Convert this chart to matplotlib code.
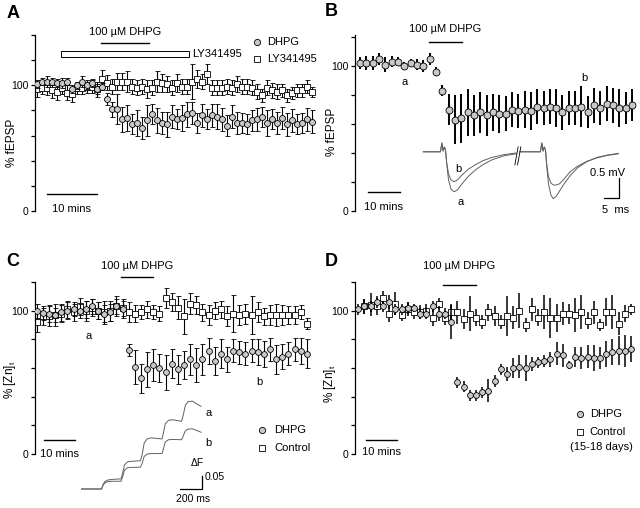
import matplotlib
matplotlib.use("Agg")
import matplotlib.pyplot as plt

plt.rcParams['font.family'] = ['Liberation Sans', 'DejaVu Sans']

W, H = 640, 508
GRAY = '#c8c8c8'
TRACE = '#606060'

# ---------------- panel A: % fEPSP, 1 min bins
a_t = list(range(56))
a_dhpg = [101, 103, 103, 103, 102, 102, 103, 97, 100, 103, 100, 102, 97, 99,
          89, 81, 81, 73, 74, 69, 70, 66, 72, 77, 72, 70, 69, 75, 73, 74,
          77, 78, 70, 76, 73, 76, 75, 73, 68, 75, 70, 70, 69, 72, 73, 75,
          70, 73, 70, 74, 69, 72, 69, 70, 73, 71]
a_dhpg_err = [3, 3, 4, 3, 3, 4, 3, 3, 3, 4, 3, 3, 4, 3,
              5, 6, 12, 10, 10, 8, 10, 9, 12, 8, 10, 9, 10, 9, 8, 10,
              10, 9, 8, 9, 8, 9, 10, 9, 8, 9, 9, 8, 8, 8, 9, 8,
              10, 8, 9, 9, 9, 9, 8, 8, 9, 9]
a_ly = [97, 98, 98, 96, 95, 98, 94, 93, 98, 98, 99, 99, 97, 105, 102, 99,
        103, 103, 103, 99, 98, 99, 97, 98, 103, 102, 101, 98, 102, 99, 99,
        103, 105, 103, 109, 98, 98, 98, 99, 98, 101, 99, 99, 98, 95, 92,
        98, 96, 95, 96, 92, 94, 96, 96, 99, 95]
a_ly_err = [6, 5, 6, 6, 7, 5, 6, 6, 5, 5, 5, 5, 6, 7, 6, 6, 7, 7, 8, 6,
            6, 6, 7, 6, 8, 7, 6, 6, 7, 6, 6, 14, 7, 6, 8, 6, 6, 6, 6, 6,
            6, 6, 6, 6, 6, 5, 6, 6, 6, 5, 5, 5, 5, 5, 5, 4]
a_dhpg_on = (12.8, 22.4)
a_ly_on = (4.8, 30.4)

# ---------------- panel B: % fEPSP, 2 min bins
b_t = list(range(0, 88, 2))
b_dhpg = [102, 102, 102, 105, 101, 103, 103, 100, 102, 101, 100, 105, 96, 83,
          70, 63, 64, 68, 66, 68, 66, 68, 67, 67, 70, 69, 70, 69, 72, 71,
          72, 71, 68, 71, 71, 72, 68, 73, 71, 74, 73, 71, 71, 73]
b_dhpg_err = [4, 5, 5, 4, 5, 4, 3, 3, 3, 4, 4, 4, 3, 4,
              11, 17, 17, 16, 14, 14, 14, 13, 13, 12, 12, 12, 13, 13, 12, 12,
              12, 13, 12, 12, 12, 14, 11, 12, 12, 12, 12, 13, 11, 11]
b_dhpg_on = (21.8, 32.3)

# fEPSP example traces (ms, mV); a = baseline, b = after DHPG
b_tr1_t = [1.1, 6.8, 7.3, 7.7, 8.1, 8.5, 8.9, 9.5, 10.3, 11.4, 12.5, 14, 16, 18.5, 21, 24, 28, 32]
b_tr1_a = [0, 0, 0.22, 0.02, 0.12, 0.05, -0.3, -0.7, -0.93, -1.0, -0.95, -0.8, -0.62, -0.45, -0.32, -0.2, -0.1, -0.05]
b_tr1_b = [0, 0, 0.22, 0.02, 0.12, 0.05, -0.28, -0.55, -0.7, -0.75, -0.7, -0.58, -0.44, -0.32, -0.22, -0.14, -0.07, -0.03]
b_tr2_t = [33.3, 40.1, 40.6, 41.0, 41.4, 41.8, 42.2, 42.8, 43.6, 44.4, 45.3, 46.5, 48, 50, 52.5, 55.5, 59, 62.5, 66.1]
b_tr2_a = [0, 0, 0.22, 0.02, 0.12, 0.05, -0.35, -0.8, -1.08, -1.17, -1.12, -0.98, -0.8, -0.6, -0.4, -0.25, -0.14, -0.08, -0.04]
b_tr2_b = [0, 0, 0.22, 0.02, 0.12, 0.05, -0.3, -0.62, -0.78, -0.83, -0.83, -0.8, -0.68, -0.5, -0.36, -0.24, -0.15, -0.09, -0.05]

# ---------------- panel C: % [Zn]t, 2 min bins
c_t = list(range(0, 90, 2))
c_ctrl = [92, 96, 96, 97, 98, 101, 99, 103, 100, 102, 100, 99, 100, 103, 102,
          99, 98, 99, 101, 99, 98, 109, 106, 102, 96, 105, 104, 99, 97, 100,
          101, 96, 98, 97, 98, 97, 99, 96, 97, 97, 97, 97, 97, 99, 91]
c_ctrl_err = [7, 6, 7, 8, 6, 6, 6, 6, 7, 6, 6, 8, 7, 7, 6, 7, 6, 5, 6, 5,
              5, 7, 6, 8, 12, 7, 6, 6, 7, 6, 6, 7, 13, 7, 7, 13, 7, 6, 7, 8,
              7, 6, 6, 5, 4]
c_pre_t = list(range(0, 30, 2))
c_pre = [100, 98.6, 98, 97, 99, 100, 101, 100, 101, 103, 100, 98, 99, 103, 101]
c_pre_err = [5, 5, 6, 5, 6, 6, 5, 5, 6, 5, 6, 6, 6, 5, 6]
c_post_t = list(range(30, 90, 2))
c_post = [72.6, 60.5, 52.8, 59, 62, 60, 57, 63, 59, 62, 66, 62, 66, 72, 65,
          70, 66, 72, 71, 70, 72, 71, 70, 73, 66, 68, 70, 73, 72, 70]
c_post_err = [4, 12, 10, 12, 11, 10, 12, 10, 10, 10, 11, 12, 11, 9, 10,
              10, 9, 8, 8, 8, 8, 9, 9, 8, 10, 9, 8, 8, 9, 10]
c_dhpg_on = (27.5, 37.9)

# zinc fluorescence traces (ms, dF)
c_tr_t = [15, 200, 212, 230, 260, 300, 380, 394, 412, 440, 480, 560, 576, 594,
          620, 660, 760, 773, 790, 820, 860, 940, 955, 975, 1000, 1040, 1080, 1121]
c_tr_a = [0, 0, 0.015, 0.028, 0.034, 0.036, 0.038, 0.058, 0.09, 0.102, 0.104, 0.106, 0.13, 0.172,
          0.188, 0.192, 0.188, 0.212, 0.245, 0.258, 0.26, 0.254, 0.275, 0.313, 0.328, 0.33, 0.32, 0.31]
c_tr_b = [0, 0, 0.013, 0.023, 0.028, 0.029, 0.029, 0.045, 0.07, 0.08, 0.081, 0.082, 0.096, 0.122,
          0.131, 0.133, 0.133, 0.151, 0.177, 0.185, 0.186, 0.185, 0.198, 0.218, 0.225, 0.226, 0.22, 0.213]

# ---------------- panel D: % [Zn]t, 15-18 day slices
d_pre_t = list(range(0, 32, 2))
d_pre = [101, 103, 103, 106, 103, 106, 101, 101, 102, 102, 98, 98, 103, 98, 98, 92]
d_pre_err = [4, 5, 4, 4, 4, 5, 4, 4, 4, 3, 4, 4, 4, 5, 4, 12]
d_post_t = list(range(32, 90, 2))
d_post = [50, 47, 41, 41, 43, 44, 51, 59, 56, 60, 61, 60, 63, 64, 65, 66, 70, 69,
          62, 68, 67, 68, 67, 67, 70, 71, 72, 72, 73]
d_post_err = [4, 4, 4, 4, 4, 8, 4, 4, 5, 7, 8, 9, 5, 4, 4, 5, 8, 8, 3, 7,
              8, 8, 9, 8, 9, 9, 10, 11, 9]
d_ctrl_t = list(range(2, 90, 2))
d_ctrl = [103, 104, 103, 109, 98, 105, 97, 101, 99, 99, 100, 95, 105, 95, 99,
          99, 94, 98, 95, 92, 99, 96, 92, 96, 95, 100, 90, 101, 95, 99, 95, 95,
          98, 98, 97, 99, 93, 99, 90, 99, 99, 91, 98, 101]
d_ctrl_err = [5, 8, 6, 5, 6, 8, 4, 5, 5, 5, 5, 6, 4, 5, 6, 8, 7, 12, 6, 5,
              6, 7, 5, 14, 8, 12, 5, 8, 6, 12, 14, 10, 8, 7, 12, 12, 6, 8, 4, 10,
              12, 8, 6, 4]
d_dhpg_on = (27.3, 38.0)


def px_axes(fig, x0, y0, x1, y1):
    return fig.add_axes([x0 / W, 1 - y1 / H, (x1 - x0) / W, (y1 - y0) / H])


def style(ax, ytop, ylabel, lab_y):
    for s in ['top', 'right', 'bottom']:
        ax.spines[s].set_visible(False)
    ax.spines['left'].set_linewidth(0.9)
    ax.set_xticks([])
    ticks = list(range(0, int(ytop) + 1, 20))
    ax.set_yticks(ticks)
    ax.set_yticklabels(['0' if v == 0 else '100' if v == 100 else '' for v in ticks])
    ax.tick_params(axis='y', direction='out', length=3, width=0.9, labelsize=7.5, pad=1.5)
    ax.set_ylabel(ylabel, fontsize=8.5)
    ax.yaxis.set_label_coords(-0.06, lab_y)
    ax.patch.set_visible(False)


def circles(ax, t, y, e, ms=4.3, caps=1.8, elw=0.8):
    ax.errorbar(t, y, yerr=e, fmt='o', ms=ms, mfc=GRAY, mec='k', mew=0.6,
                ecolor='k', elinewidth=elw, capsize=caps, capthick=elw, zorder=3)


def squares(ax, t, y, e, ms=3.8, caps=1.8, elw=0.8):
    ax.errorbar(t, y, yerr=e, fmt='s', ms=ms, mfc='white', mec='k', mew=0.6,
                ecolor='k', elinewidth=elw, capsize=caps, capthick=elw, zorder=2)


def scalebar(ax, x0, y, txt_y):
    ax.plot([x0, x0 + 10], [y, y], color='k', lw=1.0, clip_on=False)
    ax.text(x0 + 5, txt_y, '10 mins', ha='center', va='center', fontsize=8)


def drug(ax, on, y, txt_y):
    ax.plot(on, [y, y], color='k', lw=1.0, clip_on=False)
    ax.text(sum(on) / 2, txt_y, '100 \u00b5M DHPG', ha='center', va='center', fontsize=8)


fig = plt.figure(figsize=(W / 100, H / 100), dpi=100)
fig.patch.set_facecolor('white')

# ===== A
ax = px_axes(fig, 35, 35, 320, 211)
ax.set_xlim(-0.4, 56.6)
ax.set_ylim(0, 140)
style(ax, 140, '% fEPSP', 0.386)
squares(ax, a_t, a_ly, a_ly_err)
circles(ax, a_t, a_dhpg, a_dhpg_err)
drug(ax, a_dhpg_on, 133.6, 142.4)
ax.add_patch(plt.Rectangle((a_ly_on[0], 122.7), a_ly_on[1] - a_ly_on[0], 4.6,
                           fill=False, ec='k', lw=0.7, clip_on=False))
ax.text(a_ly_on[1] + 0.6, 125, 'LY341495', va='center', fontsize=8)
ax.plot([44], [134.4], 'o', ms=4.5, mfc=GRAY, mec='k', mew=0.6, clip_on=False)
ax.text(46, 134.4, 'DHPG', va='center', fontsize=8)
ax.plot([44], [120.9], 's', ms=4.2, mfc='white', mec='k', mew=0.6, clip_on=False)
ax.text(46, 120.9, 'LY341495', va='center', fontsize=8)
scalebar(ax, 2, 13.5, 1.6)

# ===== B
ax = px_axes(fig, 355, 35, 640, 211)
ax.set_xlim(-1.58, 88.5)
ax.set_ylim(0, 121.4)
style(ax, 120, '% fEPSP', 0.45)
circles(ax, b_t, b_dhpg, b_dhpg_err, ms=5.0, caps=0, elw=1.4)
drug(ax, b_dhpg_on, 116.6, 125.3)
ax.text(14.2, 89, 'a', ha='center', va='center', fontsize=8)
ax.text(71, 91.7, 'b', ha='center', va='center', fontsize=8)
scalebar(ax, 2.5, 13.1, 2.8)

ins = px_axes(fig, 420, 135, 625, 205)
ins.axis('off')
ins.set_xlim(0, 68.3)
ins.set_ylim(-1.33, 0.42)
for tt, aa, bb in [(b_tr1_t, b_tr1_a, b_tr1_b), (b_tr2_t, b_tr2_a, b_tr2_b)]:
    ins.plot(tt, aa, color=TRACE, lw=0.7, clip_on=False)
    ins.plot(tt, bb, color=TRACE, lw=0.7, clip_on=False)
ins.plot([31.6, 32.7], [-0.33, 0.125], color='k', lw=0.6, clip_on=False)
ins.plot([32.5, 33.6], [-0.33, 0.125], color='k', lw=0.6, clip_on=False)
ins.plot([61.4, 66.4, 66.4], [-1.165, -1.165, -0.665], color='k', lw=0.9, clip_on=False)
ins.text(68.3, -0.54, '0.5 mV', ha='right', va='center', fontsize=8)
ins.text(65, -1.46, '5  ms', ha='center', va='center', fontsize=8)
ins.text(12.8, -0.44, 'b', ha='center', va='center', fontsize=8)
ins.text(13.7, -1.25, 'a', ha='center', va='center', fontsize=8)

# ===== C
ax = px_axes(fig, 35, 282, 320, 454)
ax.set_xlim(-0.55, 92.3)
ax.set_ylim(0, 120)
style(ax, 120, '% [Zn]$_\\mathregular{t}$', 0.43)
squares(ax, c_t, c_ctrl, c_ctrl_err)
circles(ax, c_pre_t, c_pre, c_pre_err, ms=4.2)
circles(ax, c_post_t, c_post, c_post_err, ms=4.2)
drug(ax, c_dhpg_on, 123.5, 131.2)
ax.text(17, 82.3, 'a', ha='center', va='center', fontsize=8)
ax.text(72.4, 50.2, 'b', ha='center', va='center', fontsize=8)
ax.plot([73.4], [16.7], 'o', ms=4.5, mfc=GRAY, mec='k', mew=0.6, clip_on=False)
ax.text(77.3, 16.7, 'DHPG', va='center', fontsize=8)
ax.plot([73.4], [4.2], 's', ms=4.2, mfc='white', mec='k', mew=0.6, clip_on=False)
ax.text(77.3, 4.2, 'Control', va='center', fontsize=8)
scalebar(ax, 2.5, 9.8, 0)

ins = px_axes(fig, 80, 395, 210, 495)
ins.axis('off')
ins.set_xlim(0, 1204)
ins.set_ylim(-0.0226, 0.353)
ins.plot(c_tr_t, c_tr_a, color=TRACE, lw=0.7, clip_on=False)
ins.plot(c_tr_t, c_tr_b, color=TRACE, lw=0.7, clip_on=False)
ins.plot([926, 1127, 1127], [0, 0, 0.05], color='k', lw=0.9, clip_on=False)
ins.text(1083, 0.098, '\u0394F', ha='center', va='center', fontsize=7.5)
ins.text(1157, 0.045, '0.05', ha='left', va='center', fontsize=7.5)
ins.text(1046, -0.038, '200 ms', ha='center', va='center', fontsize=7.5)
ins.text(1188, 0.285, 'a', ha='center', va='center', fontsize=8)
ins.text(1188, 0.174, 'b', ha='center', va='center', fontsize=8)

# ===== D
ax = px_axes(fig, 355, 282, 640, 454)
ax.set_xlim(-1.06, 90.9)
ax.set_ylim(0, 120)
style(ax, 120, '% [Zn]$_\\mathregular{t}$', 0.41)
squares(ax, d_ctrl_t, d_ctrl, d_ctrl_err, caps=0, elw=1.1)
circles(ax, d_pre_t, d_pre, d_pre_err, ms=4.2, caps=0, elw=1.1)
circles(ax, d_post_t, d_post, d_post_err, ms=4.2, caps=0, elw=1.1)
drug(ax, d_dhpg_on, 117.9, 131.2)
ax.plot([71.5], [27.9], 'o', ms=4.5, mfc=GRAY, mec='k', mew=0.6, clip_on=False)
ax.text(74.7, 27.9, 'DHPG', va='center', fontsize=8)
ax.plot([71.5], [15.4], 's', ms=4.2, mfc='white', mec='k', mew=0.6, clip_on=False)
ax.text(74.7, 15.4, 'Control', va='center', fontsize=8)
ax.text(78.3, 4.9, '(15-18 days)', ha='center', va='center', fontsize=8)
scalebar(ax, 2.5, 9.8, 1.4)

# panel letters
for s, x, y in [('A', 13, 13), ('B', 331, 12), ('C', 13, 262), ('D', 331, 261)]:
    fig.text(x / W, 1 - y / H, s, ha='center', va='center', fontsize=13, fontweight='bold')

fig.savefig('out.png', dpi=100)
